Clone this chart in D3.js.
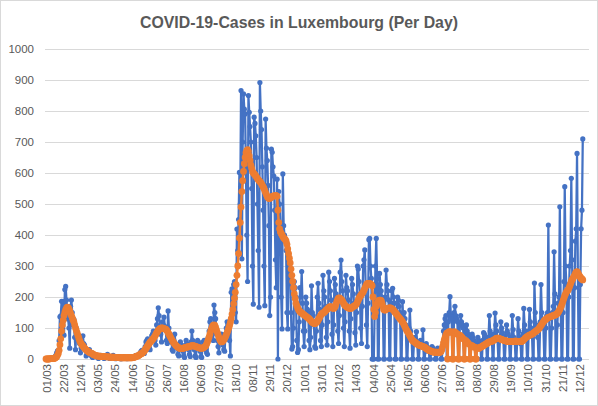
<!DOCTYPE html>
<html>
<head>
<meta charset="utf-8">
<script src="https://cdn.jsdelivr.net/npm/d3@7"></script>
<style>
  body { margin: 0; background: #fff; }
  text { font-family: "Liberation Sans", Arial, sans-serif; }
</style>
</head>
<body>
<script>
// one value per day, starting 01/03/2020 (a Sunday), one row per week
var dailyCases = [
  0,0,1,0,1,0,2,
  1,2,3,2,7,12,20,
  26,18,59,136,139,186,128,
  186,77,224,234,190,152,129,
  100,35,170,190,150,110,128,
  70,30,100,85,75,60,50,
  20,35,40,75,50,45,30,
  10,15,20,25,30,18,12,
  8,5,12,15,10,12,8,
  5,2,8,10,12,9,7,
  4,2,6,10,8,15,6,
  3,2,5,8,6,12,4,
  2,1,4,6,5,8,3,
  1,1,3,5,4,6,2,
  2,1,4,6,5,7,3,
  2,3,6,8,10,12,9,
  8,10,15,20,25,28,22,
  25,18,40,55,60,65,45,
  35,30,60,75,80,90,70,
  60,45,110,130,165,140,100,
  80,55,120,110,135,105,95,
  60,50,155,100,80,70,55,
  30,25,60,80,50,45,35,
  15,10,40,55,45,35,25,
  10,5,45,60,50,40,30,
  15,8,55,90,60,45,30,
  10,5,50,60,55,45,25,
  8,5,40,55,60,50,30,
  20,15,70,90,120,130,100,
  80,60,174,150,130,85,60,
  40,20,70,60,80,55,45,
  30,25,80,100,120,110,90,
  60,10,215,226,180,240,250,
  150,120,419,350,450,602,500,
  866,323,700,855,806,790,600,
  400,250,850,796,750,700,550,
  300,177,780,760,720,650,500,
  350,167,892,800,740,620,480,
  300,172,774,680,640,560,430,
  140,200,677,667,620,590,480,
  320,230,580,0,540,500,420,
  200,97,597,430,400,380,350,
  150,97,341,300,280,150,32,
  40,100,250,230,200,60,21,
  30,120,230,200,282,180,90,
  40,90,200,180,160,150,60,
  30,70,236,150,140,110,40,
  35,90,200,244,180,160,60,
  40,110,270,220,200,170,70,
  45,120,280,250,220,190,80,
  40,110,260,240,210,180,90,
  50,140,280,319,250,220,100,
  40,120,270,230,220,190,90,
  35,130,260,240,210,180,85,
  45,150,300,290,250,210,100,
  50,170,300,320,352,240,110,
  40,180,385,389,300,260,0,
  0,0,150,300,389,260,0,
  0,276,240,220,200,180,0,
  0,200,287,240,220,190,0,
  0,180,220,228,200,180,0,
  0,150,200,190,170,150,0,
  0,185,120,150,130,110,0,
  0,80,100,158,90,70,0,
  0,50,70,60,88,50,0,
  0,40,60,50,45,94,0,
  0,25,50,40,35,30,0,
  0,20,40,35,30,25,0,
  0,15,35,30,30,25,0,
  0,40,90,110,130,140,0,
  0,120,150,201,140,130,0,
  0,150,170,140,130,120,0,
  0,110,140,120,110,100,0,
  0,90,110,90,80,70,0,
  0,60,80,70,60,50,0,
  0,50,70,60,55,45,0,
  0,60,85,80,70,60,0,
  0,70,140,90,80,70,0,
  0,80,148,110,90,60,0,
  0,70,120,100,85,75,0,
  0,60,110,90,80,60,0,
  0,70,140,95,70,55,0,
  0,60,130,90,70,50,0,
  0,80,163,110,90,70,0,
  0,90,160,120,100,80,0,
  0,245,150,110,90,70,0,
  0,120,240,150,120,100,0,
  0,100,140,150,432,130,0,
  0,100,150,170,346,210,0,
  0,110,180,200,491,180,0,
  0,150,250,556,300,240,0,
  0,200,300,350,583,320,0,
  0,230,380,420,663,270,0,
  0,240,420,480,710
];

// averaged series as shown in orange
var avgCases = [
  0,0,0,0,0,1,1,
  1,1,2,2,3,5,7,
  12,18,28,46,65,90,110,
  125,140,150,158,164,167,166,
  162,155,147,140,133,126,120,
  110,100,92,84,76,68,60,
  54,49,45,42,38,35,32,
  29,27,25,23,21,20,19,
  18,16,14,13,12,11,10,
  10,9,9,9,8,8,8,
  8,8,8,7,7,7,7,
  7,6,6,6,6,6,6,
  5,5,5,5,5,5,4,
  4,4,4,4,4,4,4,
  4,4,4,4,4,4,4,
  4,5,5,6,7,8,9,
  10,11,13,15,17,18,20,
  23,26,30,34,38,42,46,
  50,54,57,60,63,66,70,
  74,79,84,88,92,95,98,
  99,100,100,99,98,97,96,
  94,90,85,80,75,70,65,
  60,56,52,48,45,42,40,
  38,36,35,34,34,34,35,
  35,36,37,38,38,39,40,
  40,41,42,43,43,42,42,
  41,40,39,38,37,36,35,
  35,35,35,36,38,40,43,
  48,55,62,70,80,90,98,
  104,108,110,108,102,94,86,
  78,70,63,58,55,56,58,
  62,66,72,78,85,92,100,
  108,118,130,145,160,178,196,
  215,240,270,300,340,390,440,
  490,540,575,605,630,650,665,
  672,675,670,655,640,625,615,
  605,600,597,594,590,586,582,
  578,575,572,569,565,560,555,
  550,543,536,530,524,520,518,
  518,520,522,524,525,526,527,
  527,527,525,480,440,420,410,
  405,400,395,390,388,385,380,
  370,355,340,325,310,290,270,
  250,230,210,195,180,172,165,
  160,156,152,150,148,146,144,
  142,140,138,136,134,132,130,
  127,124,121,118,116,115,114,
  116,118,120,125,130,135,140,
  144,147,148,150,152,155,158,
  160,163,166,168,169,168,166,
  164,163,165,170,178,186,192,
  196,197,195,192,190,186,180,
  175,172,170,168,166,165,164,
  163,163,165,167,169,171,172,
  174,178,184,190,196,201,205,
  208,212,216,222,228,234,240,
  243,244,244,243,242,240,236,
  200,160,137,150,169,178,184,
  188,190,190,188,180,170,160,
  158,158,160,162,163,164,165,
  165,164,162,160,157,154,150,
  147,144,140,136,133,130,127,
  124,120,115,110,104,98,93,
  89,85,80,75,70,65,60,
  58,56,54,52,50,48,46,
  45,44,43,42,41,40,39,
  38,36,34,32,30,28,27,
  26,25,24,23,22,22,22,
  22,22,21,21,21,22,24,
  30,40,52,62,70,78,83,
  0,86,88,88,87,86,0,
  0,88,86,84,82,80,0,
  0,77,74,71,68,65,0,
  0,60,57,54,51,48,0,
  0,44,42,40,39,38,0,
  0,36,35,34,36,38,39,
  40,42,44,45,47,49,50,
  52,54,55,56,57,58,58,
  60,62,64,66,67,67,67,
  66,65,64,63,62,61,60,
  59,58,58,57,57,56,56,
  56,56,56,57,57,57,58,
  57,56,56,56,56,56,56,
  58,60,62,65,68,70,72,
  73,75,77,78,79,80,82,
  84,86,88,90,92,94,96,
  100,104,108,112,116,120,124,
  126,128,130,132,134,135,136,
  137,138,139,140,141,142,143,
  145,147,150,155,160,166,172,
  180,188,196,204,210,216,220,
  222,228,235,242,250,256,260,
  265,270,276,280,282,278,272,
  268,264,260,258,255
];

// every 21st day gets a label
var tickLabels = ["01/03","22/03","12/04","03/05","24/05","14/06","05/07","26/07",
  "16/08","06/09","27/09","18/10","08/11","29/11","20/12","10/01","31/01","21/02",
  "14/03","04/04","25/04","16/05","06/06","27/06","18/07","08/08","29/08","19/09",
  "10/10","31/10","21/11","12/12"];
var yTicks = [0,100,200,300,400,500,600,700,800,900,1000];

var svgWidth = 598;
var svgHeight = 406;

var svg = d3.select("body")
  .append("svg")
  .attr("width", svgWidth)
  .attr("height", svgHeight);

// chart border
svg.append("rect")
  .attr("x", 0.5).attr("y", 0.5)
  .attr("width", svgWidth - 1).attr("height", svgHeight - 1)
  .attr("fill", "#fff")
  .attr("stroke", "#d9d9d9");

var xScale = d3.scaleLinear()
  .domain([0, 651])
  .range([46, 579.5]);

var yScale = d3.scaleLinear()
  .domain([0, 1000])
  .range([359, 49]);

// gridlines
svg.append("g")
  .selectAll("line")
  .data(yTicks)
  .enter()
  .append("line")
  .attr("x1", 45)
  .attr("x2", 589)
  .attr("y1", d => yScale(d) + 0.5)
  .attr("y2", d => yScale(d) + 0.5)
  .attr("stroke", "#d9d9d9")
  .attr("stroke-width", 1);

// y axis labels
var leftAxis = d3.axisLeft(yScale)
  .tickValues(yTicks)
  .tickFormat(d3.format("d"))
  .tickSize(0)
  .tickPadding(11);
var yAxisG = svg.append("g")
  .attr("transform", "translate(45,0)")
  .call(leftAxis);
yAxisG.select(".domain").remove();
yAxisG.selectAll("text")
  .attr("fill", "#595959")
  .style("font-size", "11.5px");

// x axis labels, rotated
var tickIdx = tickLabels.map((t, i) => i * 21);
var bottomAxis = d3.axisBottom(xScale)
  .tickValues(tickIdx)
  .tickFormat((d, i) => tickLabels[i])
  .tickSize(0);
var xAxisG = svg.append("g")
  .attr("transform", "translate(0,359)")
  .call(bottomAxis);
xAxisG.select(".domain").remove();
xAxisG.selectAll("text")
  .attr("transform", "rotate(-90)")
  .attr("text-anchor", "end")
  .attr("x", -5)
  .attr("y", 0)
  .attr("dy", "0.35em")
  .attr("fill", "#595959")
  .style("font-size", "11.5px");

var line = d3.line()
  .x((d, i) => xScale(i))
  .y(d => yScale(d));

// daily series (blue)
svg.append("path")
  .datum(dailyCases)
  .attr("d", line)
  .attr("fill", "none")
  .attr("stroke", "#4472C4")
  .attr("stroke-width", 2.25)
  .attr("stroke-linejoin", "round");

svg.append("g")
  .selectAll("circle")
  .data(dailyCases)
  .enter()
  .append("circle")
  .attr("cx", (d, i) => xScale(i))
  .attr("cy", d => yScale(d))
  .attr("r", 2.6)
  .attr("fill", "#4472C4");

// average series (orange)
svg.append("path")
  .datum(avgCases)
  .attr("d", line)
  .attr("fill", "none")
  .attr("stroke", "#ED7D31")
  .attr("stroke-width", 2.5)
  .attr("stroke-linejoin", "round");

svg.append("g")
  .selectAll("circle")
  .data(avgCases)
  .enter()
  .append("circle")
  .attr("cx", (d, i) => xScale(i))
  .attr("cy", d => yScale(d))
  .attr("r", 3.4)
  .attr("fill", "#ED7D31");

// title
svg.append("text")
  .attr("x", 299)
  .attr("y", 28)
  .attr("text-anchor", "middle")
  .attr("textLength", 318)
  .attr("lengthAdjust", "spacingAndGlyphs")
  .attr("fill", "#595959")
  .style("font-size", "16.5px")
  .style("font-weight", "bold")
  .text("COVID-19-Cases in Luxembourg (Per Day)");
</script>
</body>
</html>
